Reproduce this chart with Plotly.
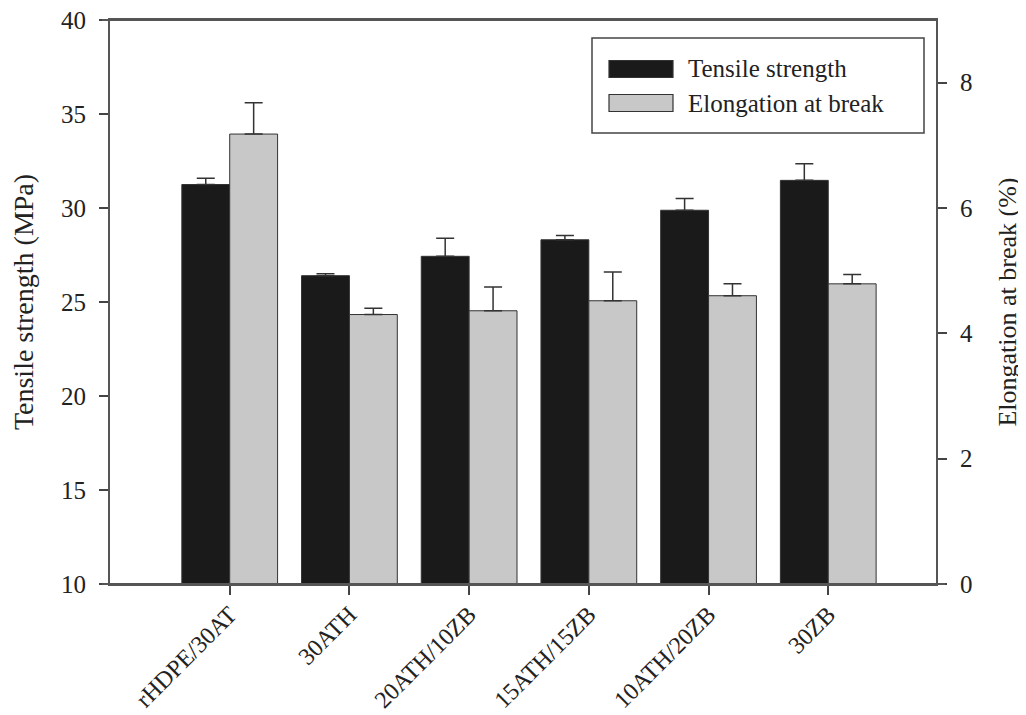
import plotly.graph_objects as go

categories = ["rHDPE/30AT", "30ATH", "20ATH/10ZB", "15ATH/15ZB", "10ATH/20ZB", "30ZB"]
tensile = [31.25, 26.4, 27.43, 28.31, 29.88, 31.47]
tensile_err = [0.33, 0.1, 0.96, 0.23, 0.62, 0.89]
elong = [7.18, 4.30, 4.36, 4.52, 4.60, 4.79]
elong_err = [0.50, 0.10, 0.38, 0.46, 0.19, 0.15]
series_names = ["Tensile strength", "Elongation at break"]
left_ticks = [10, 15, 20, 25, 30, 35, 40]
right_ticks = [0, 2, 4, 6, 8]

FONT = "Liberation Serif"
BLACK = "#1a1a1a"
GREY = "#c8c8c8"
EDGE = "#333333"
TXT = "#222222"

xs = list(range(len(categories)))

fig = go.Figure()
fig.add_trace(go.Bar(
    x=xs, y=tensile, name=series_names[0], yaxis="y",
    width=0.4, offset=-0.4,
    marker=dict(color=BLACK, line=dict(color=EDGE, width=1)),
    error_y=dict(type="data", array=tensile_err, arrayminus=[0]*len(tensile), symmetric=False,
                 color=EDGE, thickness=1.5, width=9),
    showlegend=False,
))
fig.add_trace(go.Bar(
    x=xs, y=elong, name=series_names[1], yaxis="y2",
    width=0.4, offset=0.0,
    marker=dict(color=GREY, line=dict(color=EDGE, width=1)),
    error_y=dict(type="data", array=elong_err, arrayminus=[0]*len(elong), symmetric=False,
                 color=EDGE, thickness=1.5, width=9),
    showlegend=False,
))

# The page body adds an 8px offset; figure coords = page coords - 8
W, H = 1018, 707
L, R, T, B = 102, 90, 12, 131

# helpers in page pixel coordinates of the plot area (left 110, right 936, top 20, bottom 584)
def px(xp):
    return (xp - 110) / 826.0

def py(yp):
    return (584 - yp) / 564.0

axis_font = dict(family=FONT, size=25, color=TXT)

fig.update_layout(
    width=W, height=H,
    margin=dict(l=L, r=R, t=T, b=B, autoexpand=False),
    paper_bgcolor="white", plot_bgcolor="white",
    font=dict(family=FONT, color=TXT),
    barmode="overlay",
    xaxis=dict(
        range=[-1.0, 5.9], automargin=False,
        tickmode="array", tickvals=xs, ticktext=categories,
        tickangle=-45, tickfont=dict(family=FONT, size=24, color=TXT),
        ticklabeloverflow="allow", ticklabelstandoff=-4,
        ticks="outside", ticklen=9, tickwidth=1.5, tickcolor="#444444",
        showline=True, linecolor="#555555", linewidth=2, mirror=True,
        showgrid=False, zeroline=False,
    ),
    yaxis=dict(
        range=[10, 40], automargin=False, tickmode="array", tickvals=left_ticks,
        tickfont=axis_font, ticks="outside", ticklen=9, tickwidth=1.5, tickcolor="#444444",
        ticklabelstandoff=8, ticklabeloverflow="allow",
        showline=True, linecolor="#555555", linewidth=2,
        showgrid=False, zeroline=False,
        title=dict(text="Tensile strength (MPa)", font=dict(family=FONT, size=28, color=TXT), standoff=21),
    ),
    yaxis2=dict(
        range=[0, 9], automargin=False, tickmode="array", tickvals=right_ticks, overlaying="y", side="right",
        tickfont=axis_font, ticks="outside", ticklen=9, tickwidth=1.5, tickcolor="#444444",
        ticklabelstandoff=8, ticklabeloverflow="allow",
        showline=True, linecolor="#555555", linewidth=2,
        showgrid=False, zeroline=False,
        title=dict(text="Elongation at break (%)", font=dict(family=FONT, size=26, color=TXT), standoff=26),
    ),
)

# extend frame lines slightly beyond axes (as in reference)
fig.add_shape(type="line", xref="paper", yref="paper", x0=px(102), x1=px(945), y0=0, y1=0,
              line=dict(color="#555555", width=2))
fig.add_shape(type="line", xref="paper", yref="paper", x0=px(102), x1=1, y0=1, y1=1,
              line=dict(color="#555555", width=2))

# manual legend
fig.add_shape(type="rect", xref="paper", yref="paper", x0=px(592), x1=px(924), y0=py(133), y1=py(38),
              line=dict(color="#444444", width=1.5), fillcolor="white")
rows = [(69, BLACK), (103, GREY)]
for (yc, col), name in zip(rows, series_names):
    fig.add_shape(type="rect", xref="paper", yref="paper", x0=px(609), x1=px(673),
                  y0=py(yc + 8.5), y1=py(yc - 8.5),
                  line=dict(color=EDGE, width=1.2), fillcolor=col)
    fig.add_annotation(xref="paper", yref="paper", x=px(686), y=py(yc), text=name,
                       showarrow=False, xanchor="left", yanchor="middle",
                       font=dict(family=FONT, size=25, color=TXT))

fig.write_html("out.html")
